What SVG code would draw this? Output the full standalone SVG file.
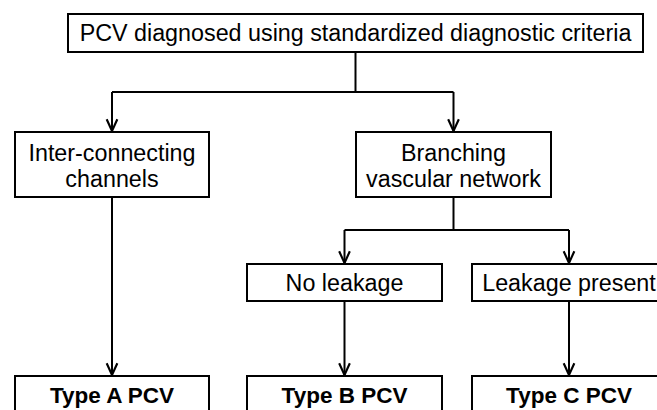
<svg xmlns="http://www.w3.org/2000/svg" width="657" height="410" viewBox="0 0 657 410">
  <style>
    .box { fill: #ffffff; stroke: #000000; stroke-width: 2; }
    .lbl { font-family: "Liberation Sans", Arial, sans-serif; font-size: 23.3px; fill: #000000; text-anchor: middle; }
    .bold { font-weight: bold; font-size: 22.5px; }
    .conn { fill: none; stroke: #000000; stroke-width: 2; }
  </style>
  <defs>
    <marker id="arrow" markerUnits="userSpaceOnUse" markerWidth="16" markerHeight="16" viewBox="-13 -7 15 14" refX="0" refY="0" orient="auto">
      <path d="M-11,-5 L0,0 L-11,5" fill="none" stroke="#000000" stroke-width="2"/>
    </marker>
  </defs>
  <rect width="657" height="410" fill="#ffffff"/>

  <g id="connectors">
    <path class="conn" d="M355.5,52 V92"/>
    <path class="conn" d="M112,92 H453.5"/>
    <path class="conn" d="M112,92 V131" marker-end="url(#arrow)"/>
    <path class="conn" d="M453.5,92 V131" marker-end="url(#arrow)"/>
    <path class="conn" d="M112,197 V375" marker-end="url(#arrow)"/>
    <path class="conn" d="M453.5,197 V230"/>
    <path class="conn" d="M344.5,230 H569"/>
    <path class="conn" d="M344.5,230 V263" marker-end="url(#arrow)"/>
    <path class="conn" d="M569,230 V263" marker-end="url(#arrow)"/>
    <path class="conn" d="M344.5,301 V375" marker-end="url(#arrow)"/>
    <path class="conn" d="M569,301 V375" marker-end="url(#arrow)"/>
  </g>

  <g id="node-root">
    <rect class="box" x="68" y="14" width="575" height="38"/>
    <text class="lbl" x="355.5" y="41">PCV diagnosed using standardized diagnostic criteria</text>
  </g>
  <g id="node-interconnecting">
    <rect class="box" x="15" y="132" width="194" height="65"/>
    <text class="lbl" x="112" y="161">Inter-connecting</text>
    <text class="lbl" x="112" y="187">channels</text>
  </g>
  <g id="node-branching">
    <rect class="box" x="356" y="132" width="195" height="65"/>
    <text class="lbl" x="453.5" y="161">Branching</text>
    <text class="lbl" x="453.5" y="187">vascular network</text>
  </g>
  <g id="node-noleakage">
    <rect class="box" x="247" y="264" width="195" height="37"/>
    <text class="lbl" x="344.5" y="291">No leakage</text>
  </g>
  <g id="node-leakage">
    <rect class="box" x="472" y="264" width="194" height="37"/>
    <text class="lbl" x="569" y="291">Leakage present</text>
  </g>
  <g id="node-typeA">
    <rect class="box" x="15" y="376" width="194" height="44"/>
    <text class="lbl bold" x="112" y="403">Type A PCV</text>
  </g>
  <g id="node-typeB">
    <rect class="box" x="247" y="376" width="195" height="44"/>
    <text class="lbl bold" x="344.5" y="403">Type B PCV</text>
  </g>
  <g id="node-typeC">
    <rect class="box" x="472" y="376" width="194" height="44"/>
    <text class="lbl bold" x="569" y="403">Type C PCV</text>
  </g>
</svg>
